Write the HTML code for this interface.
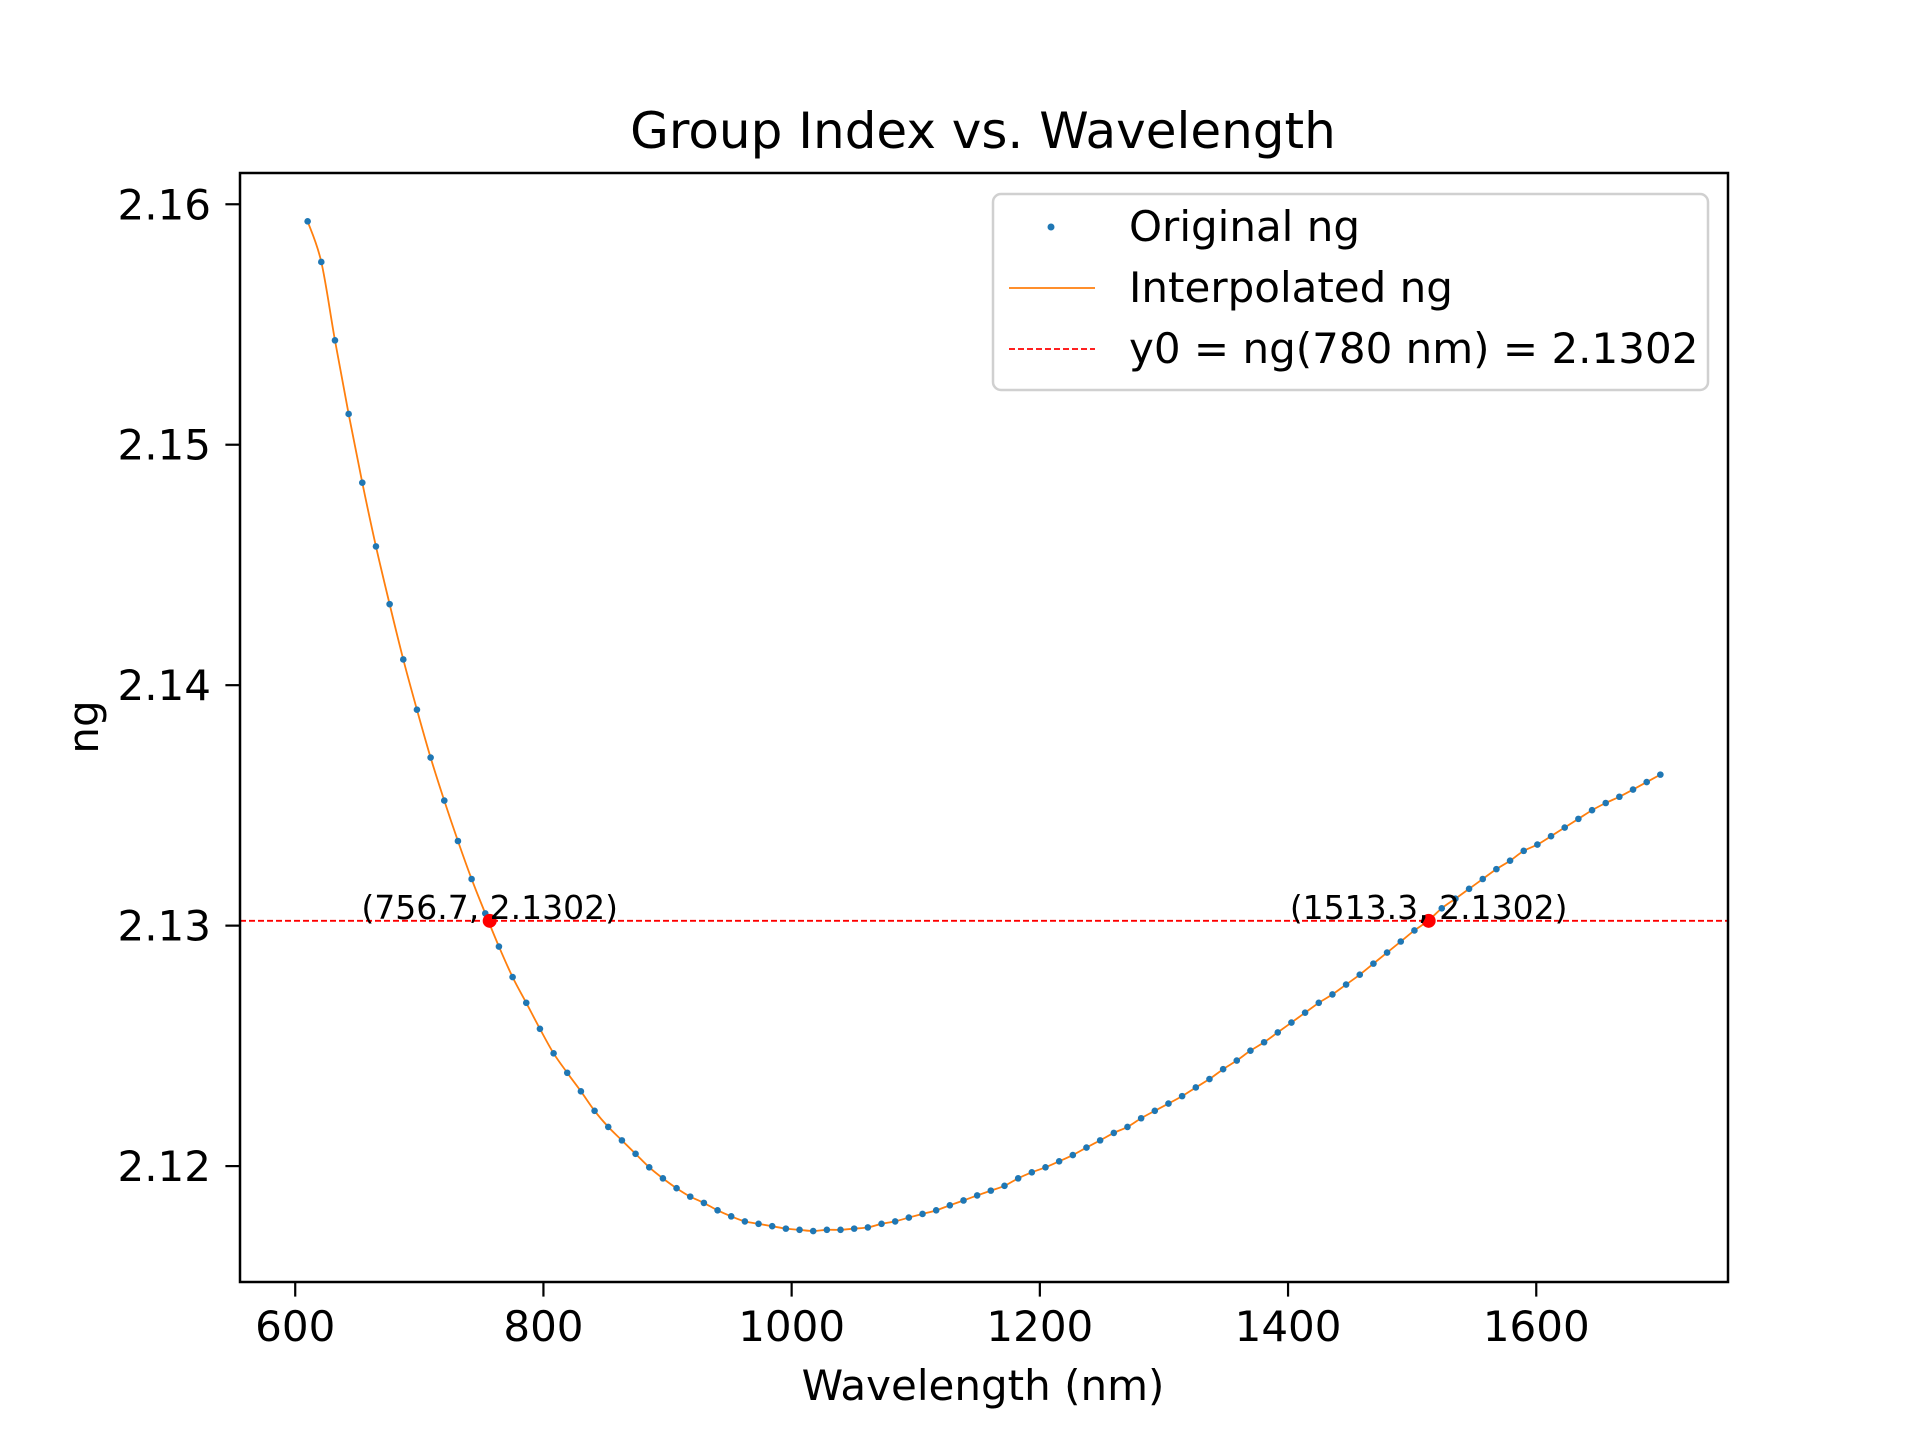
<!DOCTYPE html>
<html><head><meta charset="utf-8"><style>
html,body{margin:0;padding:0;background:#fff;}
svg{display:block;font-family:"DejaVu Sans","Liberation Sans",sans-serif;}
</style></head><body>
<svg id="chart" width="1920" height="1440" viewBox="0 0 1920 1440" xmlns="http://www.w3.org/2000/svg">
<rect width="1920" height="1440" fill="#fff"/>
<text x="983" y="148" font-size="50" text-anchor="middle">Group Index vs. Wavelength</text>
<g id="plot"></g>
<g id="xticks"></g>
<g id="yticks"></g>
<text x="983" y="1400" font-size="42" text-anchor="middle">Wavelength (nm)</text>
<text transform="translate(98,727) rotate(-90)" font-size="42" text-anchor="middle">ng</text>
<rect x="240" y="173" width="1488" height="1109" fill="none" stroke="#000" stroke-width="2.5"/>
<g transform="translate(-9,-2)">
<rect x="1002" y="196" width="715" height="196" rx="8" fill="#fff" fill-opacity="0.8" stroke="#d0d0d0" stroke-width="2.5"/>
<circle cx="1060" cy="229" r="3.5" fill="#1f77b4"/>
<text x="1138" y="243" font-size="42">Original ng</text>
<line x1="1018" y1="290" x2="1104" y2="290" stroke="#ff7f0e" stroke-width="1.8"/>
<text x="1138" y="304" font-size="42">Interpolated ng</text>
<line x1="1018" y1="351" x2="1104" y2="351" stroke="#ff0000" stroke-width="1.8" stroke-dasharray="6,3"/>
<text x="1138" y="365" font-size="42">y0 = ng(780 nm) = 2.1302</text>
</g>
</svg>
<script>
const xTicks = [600, 800, 1000, 1200, 1400, 1600];
const yTicks = [2.12, 2.13, 2.14, 2.15, 2.16];
const yTickLabels = ["2.12", "2.13", "2.14", "2.15", "2.16"];
const wlStart = 610, wlEnd = 1700;
const ngValues = [2.15929,2.15760,2.15434,2.15128,2.14842,2.14577,2.14337,2.14107,2.13898,2.13699,
2.13520,2.13352,2.13194,2.13051,2.12913,2.12786,2.12679,2.12571,2.12469,2.12388,
2.12311,2.12230,2.12163,2.12107,2.12051,2.11995,2.11949,2.11908,2.11873,2.11847,
2.11816,2.11791,2.11770,2.11760,2.11750,2.11740,2.11735,2.11730,2.11735,2.11735,
2.11740,2.11745,2.11760,2.11770,2.11786,2.11801,2.11816,2.11837,2.11857,2.11878,
2.11898,2.11918,2.11949,2.11974,2.11995,2.12020,2.12046,2.12077,2.12107,2.12138,
2.12163,2.12199,2.12230,2.12260,2.12291,2.12327,2.12362,2.12403,2.12439,2.12480,
2.12515,2.12556,2.12597,2.12638,2.12679,2.12714,2.12755,2.12796,2.12842,2.12888,
2.12934,2.12980,2.13020,2.13072,2.13112,2.13153,2.13194,2.13235,2.13270,2.13311,
2.13337,2.13372,2.13408,2.13444,2.13480,2.13510,2.13536,2.13566,2.13597,2.13628];
const y0 = 2.1302;
const crossX = [756.7, 1513.3];
const crossLabels = ["(756.7, 2.1302)", "(1513.3, 2.1302)"];

const NS = "http://www.w3.org/2000/svg";
const X0 = 555.5, X1 = 1754.5, Y0 = 2.11518, Y1 = 2.1613;
const L = 240, R = 1728, T = 173, B = 1282;
function sx(x){ return L + (x - X0) / (X1 - X0) * (R - L); }
function sy(y){ return B - (y - Y0) / (Y1 - Y0) * (B - T); }
function mk(tag, attrs, parent){ const e = document.createElementNS(NS, tag); for (const k in attrs) e.setAttribute(k, attrs[k]); parent.appendChild(e); return e; }

const plot = document.getElementById('plot');
const xg = document.getElementById('xticks');
const yg = document.getElementById('yticks');

xTicks.forEach(t => {
  const l = mk('line', {x1: sx(t), x2: sx(t), y1: B, y2: B + 14.6, stroke: '#000', 'stroke-width': 2.2}, xg);
  
  
  const tx = mk('text', {x: sx(t), y: B + 59, 'font-size': 42, 'text-anchor': 'middle'}, xg);
  tx.textContent = String(t);
  
  
});
yTicks.forEach((t, i) => {
  const l = mk('line', {x1: L - 14.6, x2: L, y1: sy(t), y2: sy(t), stroke: '#000', 'stroke-width': 2.2}, yg);
  
  
  const tx = mk('text', {x: L - 29, y: sy(t) + 15, 'font-size': 42, 'text-anchor': 'end'}, yg);
  tx.textContent = yTickLabels[i];
  
  
});

const n = ngValues.length;
const xs = ngValues.map((v, i) => wlStart + (wlEnd - wlStart) * i / (n - 1));
const pts = xs.map((x, i) => [sx(x), sy(ngValues[i])]);

let d = 'M' + pts[0][0] + ',' + pts[0][1];
for (let i = 0; i < n - 1; i++) {
  const p0 = pts[Math.max(0, i - 1)], p1 = pts[i], p2 = pts[i + 1], p3 = pts[Math.min(n - 1, i + 2)];
  const c1x = p1[0] + (p2[0] - p0[0]) / 6, c1y = p1[1] + (p2[1] - p0[1]) / 6;
  const c2x = p2[0] - (p3[0] - p1[0]) / 6, c2y = p2[1] - (p3[1] - p1[1]) / 6;
  d += ' C' + c1x + ',' + c1y + ' ' + c2x + ',' + c2y + ' ' + p2[0] + ',' + p2[1];
}
const curve = mk('path', {d: d, fill: 'none', stroke: '#ff7f0e', 'stroke-width': 1.8}, plot);



pts.forEach((p, i) => {
  const c = mk('circle', {cx: p[0], cy: p[1], r: 3.3, fill: '#1f77b4'}, plot);
  
  
});

const hl = mk('line', {x1: L, x2: R, y1: sy(y0), y2: sy(y0), stroke: '#ff0000', 'stroke-width': 1.8, 'stroke-dasharray': '6,3'}, plot);



crossX.forEach((x, i) => {
  const c = mk('circle', {cx: sx(x), cy: sy(y0), r: 7, fill: '#ff0000'}, plot);
  
  
  const t = mk('text', {x: sx(x), y: sy(y0) - 2, 'font-size': 33, 'text-anchor': 'middle'}, plot);
  t.textContent = crossLabels[i];
  
  
});
</script>
</body></html>
